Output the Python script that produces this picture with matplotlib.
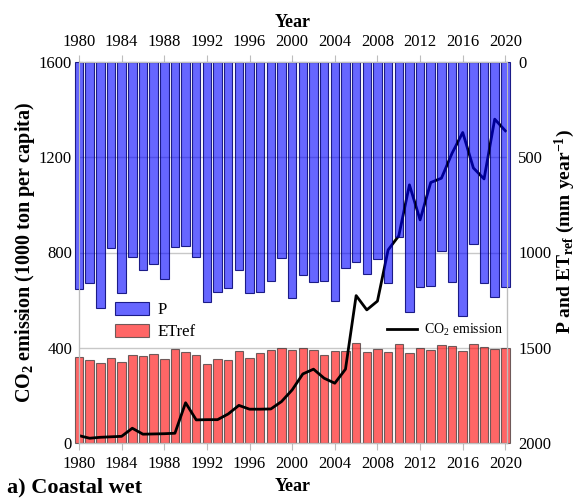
import matplotlib.pyplot as plt
from matplotlib.lines import Line2D

plt.rcParams["font.family"] = ["Liberation Serif", "DejaVu Serif"]
plt.rcParams["mathtext.fontset"] = "custom"
plt.rcParams["mathtext.rm"] = "Liberation Serif"
plt.rcParams["mathtext.bf"] = "Liberation Serif:bold"
plt.rcParams["mathtext.default"] = "regular"

years = list(range(1980, 2021))

# precipitation (mm/yr), hangs from the top of the right axis
p = [1193, 1162, 1290, 975, 1214, 1022, 1092, 1062, 1139, 973,
     964, 1025, 1258, 1209, 1188, 1092, 1214, 1209, 1148, 1031,
     1237, 1118, 1157, 1148, 1255, 1083, 1048, 1115, 1036, 1162,
     920, 1314, 1179, 1174, 990, 1153, 1332, 955, 1158, 1232, 1183]

# reference evapotranspiration (mm/yr), rises from the bottom of the right axis
etref = [453, 436, 418, 445, 425, 462, 457, 467, 441, 492,
         476, 464, 415, 439, 434, 485, 445, 474, 488, 497,
         488, 497, 487, 462, 481, 483, 523, 476, 492, 476,
         518, 474, 497, 488, 514, 511, 483, 518, 505, 492, 497]

# CO2 emission (1000 ton per capita)
co2 = [31, 20, 24, 26, 28, 62, 37, 38, 39, 41,
       169, 97, 98, 98, 122, 158, 142, 142, 143, 174,
       223, 290, 310, 272, 251, 310, 619, 559, 596, 811,
       870, 1084, 937, 1094, 1112, 1217, 1304, 1155, 1109, 1360, 1311]

year_ticks = list(range(1980, 2021, 4))
grey = "#bdbdbd"

fig = plt.figure(figsize=(5.79, 5.0), dpi=100)
ax_et = fig.add_axes([0.1364, 0.114, 0.7392, 0.762])
ax = ax_et.twinx()
ax_p = ax_et.twinx()

ax_et.set_zorder(0)
ax.set_zorder(1)
ax_p.set_zorder(2)
ax.patch.set_visible(False)
ax_p.patch.set_visible(False)

# ETref bars on the bottom layer, with the grid below them
ax_et.set_ylim(2000, 0)
ax_et.set_yticks([0, 500, 1000, 1500, 2000])
ax_et.tick_params(axis="y", right=False, left=False, labelright=False, labelleft=False)
ax_et.set_axisbelow(True)
ax_et.grid(axis="y", color="#c8c8c8", lw=1)
bars_et = ax_et.bar(years, [-v for v in etref], bottom=2000, width=0.8,
                    facecolor=(1, 0, 0, 0.6), edgecolor=(0.2, 0.2, 0.2, 0.7),
                    lw=0.8, clip_on=False, label="ETref")

# CO2 line on the left axis
ax.plot(years, co2, color="black", lw=2, label="CO$_2$ emission")
ax.set_ylim(0, 1600)
ax.set_yticks([0, 400, 800, 1200, 1600])
ax.yaxis.tick_left()
ax.yaxis.set_label_position("left")
ax.tick_params(axis="y", length=0, labelsize=12, pad=5)
ax.set_ylabel("CO$_2$ emission (1000 ton per capita)", fontsize=14.5, fontweight="bold", labelpad=1)

# P bars on top, semi-transparent so the line shows through
bars_p = ax_p.bar(years, p, width=0.8, facecolor=(0, 0, 1, 0.6),
                  edgecolor=(0, 0, 0.45, 0.85), lw=0.8, clip_on=False, label="P")
ax_p.set_ylim(2000, 0)
ax_p.set_yticks([0, 500, 1000, 1500, 2000])
ax_p.tick_params(axis="y", length=0, labelsize=12, pad=8)

for a in (ax_et, ax, ax_p):
    a.set_xlim(1980, 2020.15)
    for s in a.spines.values():
        s.set_color(grey)

ax_et.set_xticks(year_ticks)
ax_et.tick_params(axis="x", top=True, labeltop=True, direction="out",
                  length=5, color=grey, labelsize=12, pad=4)
ax_et.set_xlabel("Year", fontsize=13, fontweight="bold", labelpad=5)
sec = ax_et.secondary_xaxis("top")
sec.set_xticks([])
sec.spines["top"].set_visible(False)
sec.set_xlabel("Year", fontsize=13, fontweight="bold", labelpad=25)
ax.tick_params(axis="x", bottom=False, labelbottom=False)

# right-hand axis title
fig.text(0.976, 0.536, "P and ET$_{ref}$ (mm year$^{-1}$)", rotation=90,
         fontsize=14, fontweight="bold", ha="center", va="center")

leg1 = ax_p.legend([bars_p, bars_et], ["P", "ETref"], loc="upper left",
                   bbox_to_anchor=(0.05, 0.41), frameon=False, fontsize=12,
                   handlelength=2.0, handleheight=0.8, labelspacing=0.35, handletextpad=0.5)
ax_p.add_artist(leg1)
ax_p.legend([Line2D([], [], color="black", lw=2)], ["CO$_2$ emission"], loc="upper left",
            bbox_to_anchor=(0.69, 0.35), frameon=False, fontsize=10,
            handlelength=2.2, handletextpad=0.5)

fig.text(0.012, 0.026, "a) Coastal wet", fontsize=16, fontweight="bold", ha="left", va="center")

fig.savefig("out.png", dpi=100)
